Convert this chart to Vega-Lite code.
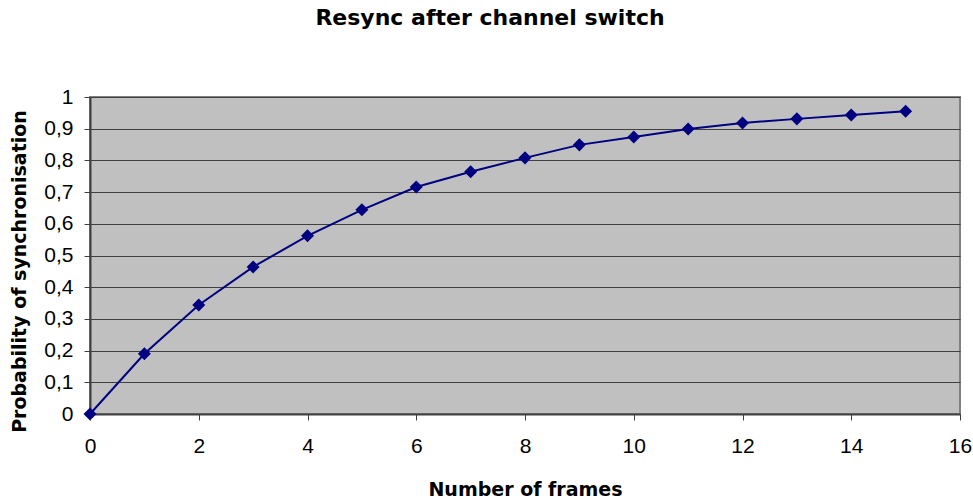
{
  "$schema": "https://vega.github.io/schema/vega-lite/v6.json",
  "autosize": {"type": "none"},
  "width": 870,
  "height": 317,
  "padding": {"left": 90, "top": 97, "right": 13, "bottom": 87},
  "background": "white",
  "title": {
    "text": "Resync after channel switch",
    "font": "DejaVu Sans",
    "fontWeight": "bold",
    "fontSize": 22,
    "color": "black",
    "anchor": "middle",
    "baseline": "alphabetic",
    "offset": 39,
    "dx": -35
  },
  "config": {
    "view": {"fill": "#C0C0C0", "stroke": "#808080", "strokeWidth": 2},
    "axis": {
      "labelFont": "Liberation Sans",
      "labelFontSize": 21,
      "labelColor": "black",
      "labelFlush": false,
      "titleFont": "DejaVu Sans",
      "titleFontWeight": "bold",
      "titleFontSize": 19,
      "titleColor": "black",
      "domainColor": "#404040",
      "domainWidth": 2,
      "tickColor": "#404040",
      "tickSize": 6,
      "tickWidth": 1,
      "gridColor": "#404040",
      "gridWidth": 1,
      "gridOpacity": 1
    }
  },
  "data": {
    "values": [
      {"frames": 0, "p": 0.0},
      {"frames": 1, "p": 0.19},
      {"frames": 2, "p": 0.344},
      {"frames": 3, "p": 0.464},
      {"frames": 4, "p": 0.562},
      {"frames": 5, "p": 0.644},
      {"frames": 6, "p": 0.716},
      {"frames": 7, "p": 0.764},
      {"frames": 8, "p": 0.808},
      {"frames": 9, "p": 0.849},
      {"frames": 10, "p": 0.874},
      {"frames": 11, "p": 0.899},
      {"frames": 12, "p": 0.918},
      {"frames": 13, "p": 0.931},
      {"frames": 14, "p": 0.943},
      {"frames": 15, "p": 0.955}
    ]
  },
  "encoding": {
    "x": {
      "field": "frames",
      "type": "quantitative",
      "scale": {"domain": [0, 16], "nice": false},
      "axis": {
        "title": "Number of frames",
        "values": [0, 2, 4, 6, 8, 10, 12, 14, 16],
        "grid": false,
        "labelPadding": 15,
        "titlePadding": 24
      }
    },
    "y": {
      "field": "p",
      "type": "quantitative",
      "scale": {"domain": [0, 1], "nice": false},
      "axis": {
        "title": "Probability of synchronisation",
        "values": [0, 0.1, 0.2, 0.3, 0.4, 0.5, 0.6, 0.7, 0.8, 0.9, 1],
        "labelExpr": "replace(format(datum.value, '.1~f'), '.', ',')",
        "labelPadding": 11,
        "titlePadding": 14,
        "titleY": 174
      }
    }
  },
  "layer": [
    {"mark": {"type": "line", "color": "#000080", "strokeWidth": 2}},
    {"mark": {"type": "point", "shape": "diamond", "filled": true, "color": "#000080", "opacity": 1, "size": 170}}
  ]
}
